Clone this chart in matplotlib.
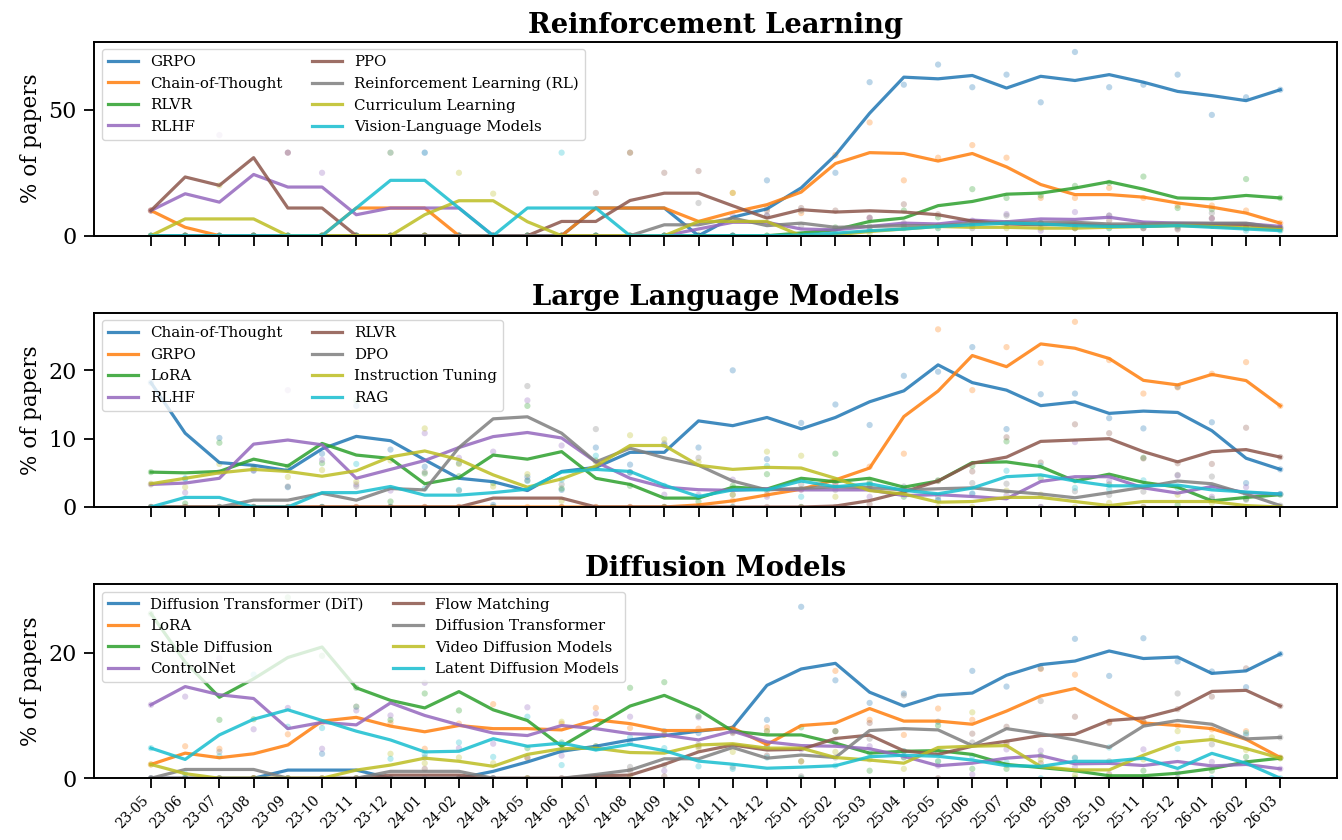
import matplotlib
matplotlib.use("Agg")
import matplotlib.pyplot as plt
import pandas as pd

plt.rcParams["font.family"] = "serif"
plt.rcParams["font.serif"] = ["DejaVu Serif"]
plt.rcParams["axes.linewidth"] = 1.4

months = ["23-05", "23-06", "23-07", "23-08", "23-09", "23-10", "23-11", "23-12",
          "24-01", "24-02", "24-04", "24-05", "24-06", "24-07", "24-08", "24-09",
          "24-10", "24-11", "24-12", "25-01", "25-02", "25-03", "25-04", "25-05",
          "25-06", "25-07", "25-08", "25-09", "25-10", "25-11", "25-12", "26-01",
          "26-02", "26-03"]

colors = ["#1f77b4", "#ff7f0e", "#2ca02c", "#9467bd",
          "#8c564b", "#7f7f7f", "#bcbd22", "#17becf"]

# monthly share of papers (%), raw values; the lines are a 3-month centred mean
rl_names = ["GRPO", "Chain-of-Thought", "RLVR", "RLHF", "PPO",
            "Reinforcement Learning (RL)", "Curriculum Learning", "Vision-Language Models"]
rl_grpo = [0, 0, 0, 0, 0, 0, 0, 0, 0, 0, 0, 0, 0, 0, 33, 0, 0, 0, 22, 10,
           25, 61, 60, 68, 59, 64, 53, 73, 59, 60, 64, 48, 55, 58]
rl_cot = [10, 0, 0, 0, 0, 0, 0, 33, 0, 0, 0, 0, 0, 0, 33, 0, 0, 17, 11, 9,
          32, 45, 22, 31, 36, 31, 15, 15, 19, 15, 12, 12, 10, 5]
rl_rlvr = [0, 0, 0, 0, 0, 0, 0, 0, 0, 0, 0, 0, 0, 0, 0, 0, 0, 0, 0, 0,
           3.3, 3.7, 10, 7.3, 18.5, 15, 16, 19.8, 21, 23.5, 11, 10.5, 22.5, 15]
rl_rlhf = [10, 0, 40, 0, 33, 25, 0, 0, 33, 0, 0, 0, 0, 0, 0, 0, 0, 8, 8, 0,
           0, 7, 4, 4, 6, 8.6, 2, 9.4, 8, 4.6, 3.7, 6.7, 4, 3.7]
rl_ppo = [10, 0, 60, 0, 33, 0, 0, 0, 0, 0, 0, 0, 0, 17, 0, 25, 25.7, 0, 10, 11,
          10, 7.2, 12.5, 8.5, 4, 5, 5, 3, 6, 3, 2.5, 7, 3, 3]
rl_rl = [0, 0, 0, 0, 0, 0, 0, 0, 0, 0, 0, 0, 0, 0, 0, 0, 13, 0, 8, 4,
         3, 3, 5, 4, 3, 8, 5, 3, 8, 3, 3, 9, 3, 3]
rl_curr = [0, 0, 20, 0, 0, 0, 0, 0, 0, 25, 16.7, 0, 0, 0, 0, 0, 0, 17, 0, 0,
           0, 1, 4, 3, 4, 3, 3, 3, 3, 4, 4, 4, 3, 2.4]
rl_vlm = [0, 0, 0, 0, 0, 0, 0, 33, 33, 0, 0, 0, 33, 0, 0, 0, 0, 0, 0, 0,
          1, 2, 3, 3, 5, 5, 5, 4, 3, 4, 4, 4, 2, 2]

llm_names = ["Chain-of-Thought", "GRPO", "LoRA", "RLHF", "RLVR", "DPO",
             "Instruction Tuning", "RAG"]
llm_cot = [18.2, 4.1, 10.1, 5.3, 2.9, 7.8, 14.8, 8.4, 5.9, 6.4, 0.3, 4.4, 2.5, 8.7,
           6.2, 9.1, 8.7, 20, 7, 12.3, 15, 12, 19.2, 19.8, 23.4, 11.4, 16.5, 16.6,
           13, 11.5, 17.6, 12.4, 3.5, 5.5]
llm_grpo = [0, 0, 0, 0, 0, 0, 0, 0, 0, 0, 0, 0, 0, 0, 0, 0, 0, 0.9, 1.8, 2.6,
            3.4, 5.9, 7.8, 26, 17.1, 23.4, 21.1, 27.1, 21.5, 16.6, 17.5, 19.5, 21.2, 14.8]
llm_lora = [5.1, 0.5, 9.4, 5.7, 5.9, 6.4, 15.6, 0.8, 4.9, 4.5, 3.5, 14.8, 2.7, 6.8,
            3.1, 0, 0.8, 3.1, 4.8, 0, 7.8, 3.3, 1.5, 3.9, 6, 9.6, 4.2, 3.9, 3.3, 7.2,
            0.3, 1.2, 1.2, 1.8]
llm_rlhf = [3.3, 2.1, 5.1, 5.4, 17.1, 6.9, 3.3, 2.4, 10.8, 7.2, 8.1, 15.6, 9, 5.7,
            5.1, 1.8, 1.8, 4, 1.5, 2.5, 3.5, 1.5, 2.5, 1, 1.9, 1.7, 0, 9.5, 3.8, 0,
            4.6, 1.5, 2.9, 1.9]
llm_rlvr = [0, 0, 0, 0, 0, 0, 0, 0, 0, 0, 0, 3.9, 0, 0, 0, 0, 0, 0, 0, 0,
            0, 0.4, 2.4, 3.8, 5.2, 10.2, 6.5, 12.1, 10.8, 7.1, 6.4, 6.3, 11.6, 7.3]
llm_dpo = [0, 0, 0, 0, 3, 0, 3, 0, 5.1, 2.4, 18.6, 17.7, 3.3, 11.4, 5.1, 9.3, 7.2,
           1.8, 2.4, 3.3, 2.5, 3, 3, 1.5, 3.5, 3.4, 0, 2.3, 1.75, 2.25, 4.7, 4.45,
           1.05, 0.2]
llm_instr = [3.4, 2.9, 6.3, 5.8, 4.4, 5.4, 3.7, 6.8, 11.5, 6.3, 3, 4.8, 0.9, 6.6,
             10.5, 9.9, 6.6, 1.8, 8.1, 7.5, 1.5, 3.6, 2.1, 0, 0, 2.4, 1.8, 0, 0.6, 0,
             1.8, 0.6, 0, 0]
llm_rag = [0, 4.2, 0, 0, 0, 0, 6.3, 0, 2.7, 2.5, 0, 3.8, 4, 7.5, 5, 3.1, 1.5, 0,
           6, 1.5, 3.9, 3.5, 2.8, 1, 2, 5.3, 6, 2.8, 2.6, 3.9, 2.8, 2.9, 1.8, 1.9]

dm_names = ["Diffusion Transformer (DiT)", "LoRA", "Stable Diffusion", "ControlNet",
            "Flow Matching", "Diffusion Transformer", "Video Diffusion Models",
            "Latent Diffusion Models"]
dm_dit = [0, 0, 0, 0, 0, 3.9, 0, 0, 0, 0, 0, 3.3, 4.5, 5.1, 5.7, 7.5, 7.2, 7.8,
          9.3, 27.3, 15.6, 12, 13.5, 9, 17.1, 14.6, 17.5, 22.2, 16.3, 22.3, 18.6,
          17, 14.5, 19.8]
dm_lora = [2.2, 5.1, 4.7, 0, 7, 8.9, 11.4, 8.8, 4.7, 8.7, 11.8, 3.2, 8.7, 11.2, 8,
           6.9, 7.9, 8, 8.1, 0, 17.1, 9.3, 6.9, 11.1, 9.3, 5.4, 17.4, 16.5, 9, 9,
           8.4, 7.8, 7.5, 3.3]
dm_sd = [26.2, 20, 9.3, 9.4, 28.8, 19.5, 14.4, 9.3, 13.5, 10.8, 17.1, 4.8, 5.7, 4.8,
         14.4, 15.3, 9.9, 7.5, 5.1, 8.1, 7.5, 1.2, 3.3, 8.4, 1.5, 1.5, 3.6, 0, 0,
         1.2, 0, 1.2, 3.4, 3.2]
dm_cnet = [11.7, 13, 19.1, 7.8, 11.2, 4.7, 10.8, 10, 15.2, 4.8, 5.5, 11.3, 3.6, 10.3,
           9.8, 1.2, 9.7, 7.4, 5.4, 4.6, 5.6, 5.1, 3.4, 2, 0.6, 4.6, 4.4, 1.8, 0.7,
           4.6, 0.8, 2.6, 2.5, 1.5]
dm_flow = [0, 0, 0, 0, 0, 0, 0, 0, 1.5, 0, 0, 0, 0, 0, 1.2, 0.3, 5.1, 7.2, 3.6, 2.7,
           7.5, 8.8, 4.3, 0, 7.1, 8.2, 2.4, 9.8, 8.8, 9, 11, 13, 17.5, 11.5]
dm_dt = [0, 0, 4.2, 0, 0, 0, 0, 0, 3.3, 0, 0, 0, 0, 0, 1.8, 2.1, 5.4, 1.8, 7.5, 0.3,
         3.3, 6.3, 13.2, 4.2, 5.7, 5.7, 12.3, 3.3, 2.7, 8.7, 13.5, 5.4, 6.9, 6.5]
dm_video = [2.2, 0, 0, 0, 0, 0, 0, 3.9, 2.4, 3.3, 2.4, 0, 9, 5.1, 0.3, 6.9, 4.8, 4.2,
            7.5, 2.7, 4.2, 3, 1.5, 2.7, 10.5, 2.1, 3, 0.5, 0.5, 3, 7.5, 6.5, 4.5, 3.2]
dm_ldm = [4.8, 0.7, 3.5, 16.5, 8.2, 8, 11.4, 3.1, 3.8, 5.7, 3.4, 9.8, 2.1, 4.9, 6.5,
          4.8, 1.9, 1.5, 3.3, 0, 2, 4, 4.3, 2.7, 3.5, 2.5, 0, 3.2, 4.9, 0, 4.7, 0,
          7.2, 0]

panels = [
    ("Reinforcement Learning", rl_names,
     [rl_grpo, rl_cot, rl_rlvr, rl_rlhf, rl_ppo, rl_rl, rl_curr, rl_vlm],
     (0, 77.1), [0, 50]),
    ("Large Language Models", llm_names,
     [llm_cot, llm_grpo, llm_lora, llm_rlhf, llm_rlvr, llm_dpo, llm_instr, llm_rag],
     (0, 28.4), [0, 10, 20]),
    ("Diffusion Models", dm_names,
     [dm_dit, dm_lora, dm_sd, dm_cnet, dm_flow, dm_dt, dm_video, dm_ldm],
     (0, 30.9), [0, 20]),
]


def smooth(vals):
    s = pd.Series(vals, dtype=float)
    return s.rolling(3, center=True).mean().fillna(s)


fig, axes = plt.subplots(3, 1, figsize=(13.42, 8.4), dpi=100, sharex=True)
fig.subplots_adjust(left=0.0704, right=0.9961, top=0.9504, bottom=0.0735, hspace=0.398)

x = list(range(len(months)))
for ax, (title, names, series, ylim, yticks) in zip(axes, panels):
    for name, vals, c in zip(names, series, colors):
        ax.scatter(x, vals, s=20, color=c, alpha=0.3, edgecolors="none")
        ax.plot(x, smooth(vals), color=c, lw=2.3, alpha=0.85, label=name)
    ax.set_title(title, fontsize=19.7, fontweight="bold")
    ax.set_ylabel("% of papers", fontsize=15.5)
    ax.set_ylim(*ylim)
    ax.set_yticks(yticks)
    ax.tick_params(axis="y", labelsize=16, length=7, width=1.3, pad=6)
    ax.tick_params(axis="x", length=7, width=1.3)
    ax.legend(loc="upper left", ncol=2, fontsize=10.8, framealpha=0.8)

axes[-1].set_xticks(x)
axes[-1].set_xticklabels(months, rotation=45, ha="right", fontsize=10)

fig.savefig("out.png", dpi=100)
